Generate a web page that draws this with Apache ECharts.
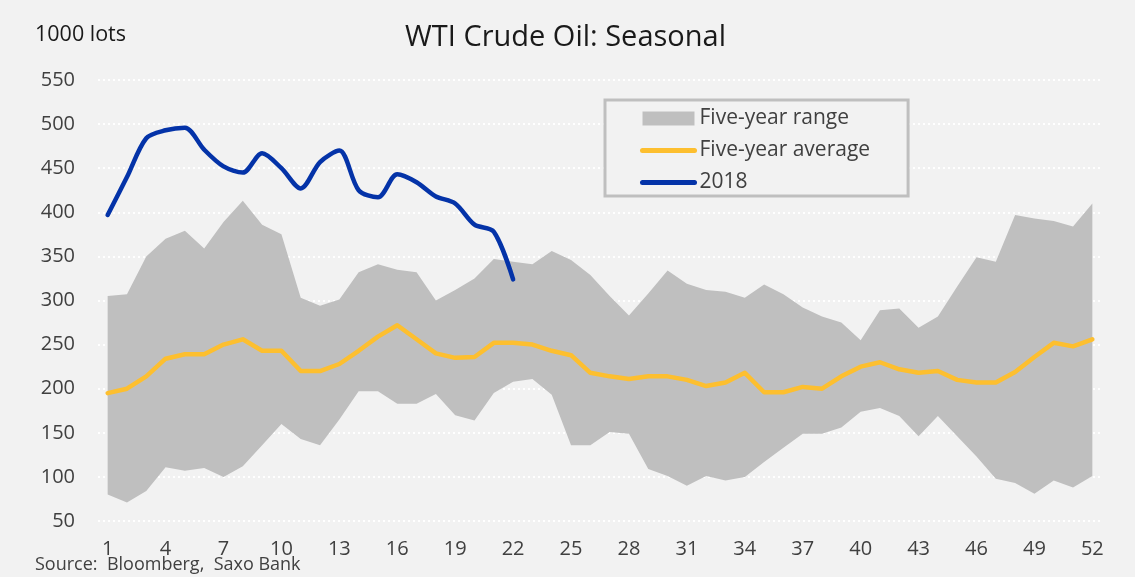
<!DOCTYPE html>
<html>
<head>
<meta charset="utf-8">
<title>WTI Crude Oil: Seasonal</title>
<script src="https://cdn.jsdelivr.net/npm/echarts@6/dist/echarts.min.js"></script>
<style>
  html, body { margin: 0; padding: 0; background: #f2f2f2; }
  #chart { width: 1135px; height: 577px; }
</style>
</head>
<body>
<div id="chart"></div>
<script>
// week numbers on the x axis
const weeks = [1,2,3,4,5,6,7,8,9,10,11,12,13,14,15,16,17,18,19,20,21,22,23,24,25,26,
  27,28,29,30,31,32,33,34,35,36,37,38,39,40,41,42,43,44,45,46,47,48,49,50,51,52];

// five-year range, top and bottom edges (1000 lots)
const rangeHigh = [305,307,350,370,379,359,389,413,386,375,303,294,301,332,341,335,332,300,312,325,
  347,344,341,356,346,329,305,283,308,334,319,312,310,303,318,307,292,282,275,255,
  289,291,269,282,316,349,344,397,393,390,384,410];
const rangeLow = [80,71,84,111,107,110,100,112,136,160,143,136,165,197,197,183,183,194,170,164,
  195,208,211,193,136,136,151,149,109,101,90,101,96,100,117,133,149,149,156,174,
  178,169,146,169,146,123,98,93,81,96,88,101];

// five-year average
const avg5y = [195,200,214,234,239,239,250,256,243,243,220,220,228,243,259,272,256,240,235,236,
  252,252,250,243,238,218,214,211,214,214,210,203,207,218,196,196,202,200,214,225,
  230,222,218,220,210,207,207,219,236,252,248,256];

// 2018, weeks 1-22
const y2018 = [397,440,484,493,496,471,452,445,467,450,427,457,470,425,417,443,434,418,410,386,378,324];

const yTicks = { min: 50, max: 550, step: 50 };

// band is drawn as a stack: invisible base + (high - low)
const rangeSpan = rangeHigh.map((v, i) => v - rangeLow[i]);

const fontFam = '"Open Sans", "Noto Sans", sans-serif';

let myChart = echarts.init(document.getElementById("chart"));
let option = {
  backgroundColor: "#f2f2f2",
  animation: false,
  textStyle: { fontFamily: fontFam },
  title: {
    text: "WTI Crude Oil: Seasonal",
    left: 400,
    top: 18,
    textStyle: { fontSize: 29, fontWeight: "normal", color: "#1a1a1a", fontFamily: fontFam }
  },
  graphic: [
    {
      type: "text", left: 35, top: 24,
      style: { text: "1000 lots", fontSize: 21.5, fill: "#1a1a1a", fontFamily: fontFam }
    },
    {
      type: "text", left: 35, top: 556,
      style: { text: "Source:  Bloomberg,  Saxo Bank", fontSize: 18, fill: "#404040", fontFamily: fontFam }
    }
  ],
  legend: {
    orient: "vertical",
    left: 605,
    top: 100,
    padding: [8, 38, 3, 35],
    borderColor: "#bfbfbf",
    borderWidth: 3,
    backgroundColor: "#f2f2f2",
    itemWidth: 52,
    itemHeight: 14,
    itemGap: 11,
    textStyle: { fontSize: 21, color: "#404040", fontFamily: fontFam },
    data: [
      { name: "Five-year range", icon: "rect" },
      { name: "Five-year average", itemStyle: { opacity: 0 }, lineStyle: { width: 5, cap: "round" } },
      { name: "2018", itemStyle: { opacity: 0 }, lineStyle: { width: 5, cap: "round" } }
    ]
  },
  grid: { left: 98, right: 33, top: 80, bottom: 56 },
  xAxis: {
    type: "category",
    data: weeks,
    boundaryGap: true,
    axisLine: { show: false },
    axisTick: { show: false },
    axisLabel: { interval: 2, fontSize: 20, color: "#404040", margin: 18, fontFamily: fontFam }
  },
  yAxis: {
    type: "value",
    min: yTicks.min,
    max: yTicks.max,
    interval: yTicks.step,
    axisLine: { show: false },
    axisTick: { show: false },
    axisLabel: { fontSize: 20, color: "#404040", margin: 23, fontFamily: fontFam },
    splitLine: { lineStyle: { color: "#ffffff", width: 2, type: [2, 3] } }
  },
  series: [
    {
      name: "rangeBase",
      type: "line",
      stack: "band",
      data: rangeLow,
      symbol: "none",
      silent: true,
      lineStyle: { opacity: 0 },
      areaStyle: { opacity: 0 }
    },
    {
      name: "Five-year range",
      type: "line",
      stack: "band",
      data: rangeSpan,
      symbol: "none",
      color: "#bfbfbf",
      itemStyle: { color: "#bfbfbf" },
      lineStyle: { opacity: 0 },
      areaStyle: { color: "#bfbfbf", opacity: 1 }
    },
    {
      name: "Five-year average",
      type: "line",
      data: avg5y,
      symbol: "none",
      color: "#fdbf2f",
      lineStyle: { color: "#fdbf2f", width: 4.5, cap: "round", join: "round" }
    },
    {
      name: "2018",
      type: "line",
      data: y2018,
      symbol: "none",
      smooth: 0.3,
      color: "#0433a8",
      lineStyle: { color: "#0433a8", width: 4.5, cap: "round", join: "round" }
    }
  ]
};
myChart.setOption(option);
</script>
</body>
</html>
